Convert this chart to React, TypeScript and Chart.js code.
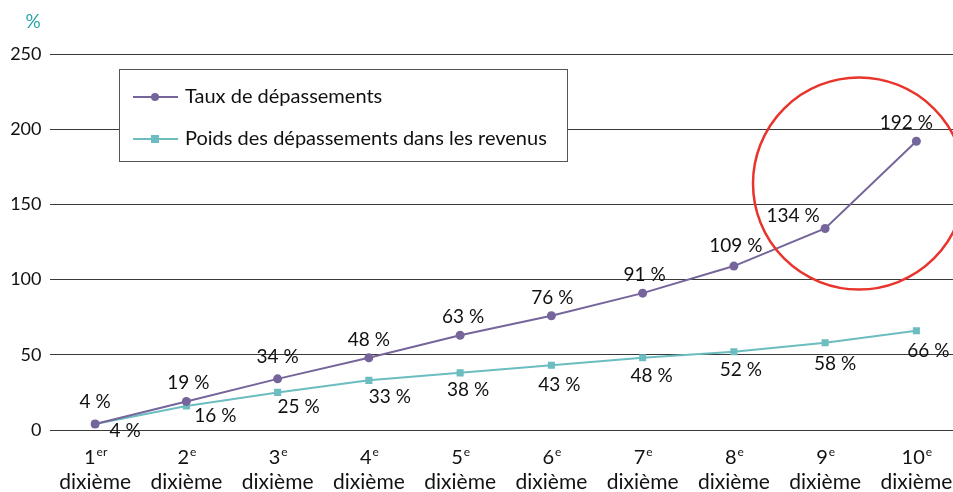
import React, { useEffect, useRef } from "react";
import { Chart, registerables } from "chart.js";

Chart.register(...registerables);

const categoryNumbers = ["1", "2", "3", "4", "5", "6", "7", "8", "9", "10"];
const categorySuffixes = ["er", "e", "e", "e", "e", "e", "e", "e", "e", "e"];
const categoryWord = "dixième";
const tauxDepassements = [4, 19, 34, 48, 63, 76, 91, 109, 134, 192];
const poidsRevenus = [4, 16, 25, 33, 38, 43, 48, 52, 58, 66];
const seriesNames = ["Taux de dépassements", "Poids des dépassements dans les revenus"];
const yTicks = [0, 50, 100, 150, 200, 250];

// label offsets relative to points (layout)
const tauxOffsets = [[0, -22], [2, -19], [0, -22], [0, -18], [3, -18], [1, -18], [2, -18], [2, -20], [-32, -13], [-10, -18]];
const poidsOffsets = [[30, 7], [29, 10], [21, 14], [21, 17], [8, 17], [8, 20], [9, 18], [7, 18], [10, 21], [12, 20]];

const FONT = "Lato, 'Open Sans', sans-serif";
const PURPLE = "#75659a";
const TEAL = "#6bbdc0";
const TEXT = "#111111";

const customPlugin = {
  id: "custom",
  afterDatasetsDraw(chart: any) {
    const ctx = chart.ctx;
    const area = chart.chartArea;
    const xs = chart.scales.x;
    ctx.save();
    // data labels
    ctx.font = `19px ${FONT}`;
    ctx.fillStyle = TEXT;
    ctx.textAlign = "center";
    ctx.textBaseline = "middle";
    const offs = [tauxOffsets, poidsOffsets];
    chart.data.datasets.forEach((ds: any, di: number) => {
      const meta = chart.getDatasetMeta(di);
      meta.data.forEach((pt: any, i: number) => {
        const [dx, dy] = offs[di][i];
        ctx.fillText(`${ds.data[i]} %`, pt.x + dx, pt.y + dy);
      });
    });
    // x labels
    categoryNumbers.forEach((n, i) => {
      const x = xs.getPixelForValue(i);
      ctx.font = `20px ${FONT}`;
      const wn = ctx.measureText(n).width;
      ctx.font = `12px ${FONT}`;
      const ws = ctx.measureText(categorySuffixes[i]).width;
      const start = x - (wn + ws) / 2;
      ctx.textAlign = "left";
      ctx.font = `20px ${FONT}`;
      ctx.fillText(n, start, area.bottom + 28);
      ctx.font = `12px ${FONT}`;
      ctx.fillText(categorySuffixes[i], start + wn + 1, area.bottom + 22);
      ctx.textAlign = "center";
      ctx.font = `21px ${FONT}`;
      ctx.fillText(categoryWord, x, area.bottom + 52);
    });
    // % unit
    ctx.fillStyle = "#2aa3a8";
    ctx.font = `19px ${FONT}`;
    ctx.fillText("%", 33, 22);
    // legend
    const lx = 119.5, ly = 69.5;
    ctx.fillStyle = "#ffffff";
    ctx.fillRect(lx, ly, 448, 92);
    ctx.strokeStyle = "#555";
    ctx.lineWidth = 1;
    ctx.strokeRect(lx, ly, 448, 92);
    const rows = [
      { y: 97, color: PURPLE, shape: "circle" },
      { y: 139, color: TEAL, shape: "rect" },
    ];
    rows.forEach((r, i) => {
      ctx.strokeStyle = r.color;
      ctx.lineWidth = 2;
      ctx.beginPath();
      ctx.moveTo(133, r.y);
      ctx.lineTo(178, r.y);
      ctx.stroke();
      ctx.fillStyle = r.color;
      if (r.shape === "circle") {
        ctx.beginPath();
        ctx.arc(155, r.y, 4, 0, Math.PI * 2);
        ctx.fill();
      } else {
        ctx.fillRect(151, r.y - 4, 8, 8);
      }
      ctx.fillStyle = TEXT;
      ctx.textAlign = "left";
      ctx.font = `20px ${FONT}`;
      ctx.fillText(seriesNames[i], 185, r.y);
    });
    // red circle
    ctx.strokeStyle = "#e8342c";
    ctx.lineWidth = 2.5;
    ctx.beginPath();
    ctx.arc(859, 183.5, 106, 0, Math.PI * 2);
    ctx.stroke();
    ctx.restore();
  },
};

export default function App() {
  const ref = useRef<HTMLCanvasElement>(null);
  useEffect(() => {
    document.body.style.margin = "0";
    const chart = new Chart(ref.current!, {
      type: "line",
      data: {
        labels: categoryNumbers,
        datasets: [
          {
            label: seriesNames[0],
            data: tauxDepassements,
            borderColor: PURPLE,
            backgroundColor: PURPLE,
            borderWidth: 2,
            pointStyle: "circle",
            pointRadius: 4.5,
            pointBorderWidth: 0,
            tension: 0,
          },
          {
            label: seriesNames[1],
            data: poidsRevenus,
            borderColor: TEAL,
            backgroundColor: TEAL,
            borderWidth: 2,
            pointStyle: "rect",
            pointRadius: 5,
            pointBorderWidth: 0,
            tension: 0,
          },
        ],
      },
      options: {
        responsive: false,
        animation: false,
        layout: { padding: { top: 54, right: 0, left: 0, bottom: 0 } },
        plugins: { legend: { display: false }, tooltip: { enabled: false } },
        scales: {
          x: {
            offset: true,
            grid: { display: false },
            border: { display: false },
            ticks: { display: false },
            afterFit: (s: any) => {
              s.height = 62;
            },
          },
          y: {
            min: 0,
            max: 250,
            afterBuildTicks: (s: any) => {
              s.ticks = yTicks.map((v) => ({ value: v }));
            },
            afterFit: (s: any) => {
              s.width = 49.5;
            },
            grid: { color: "#3a3a3a", lineWidth: 1, drawTicks: false },
            border: { display: false },
            ticks: {
              padding: 8,
              color: TEXT,
              font: { size: 18, family: FONT },
            },
          },
        },
      },
      plugins: [customPlugin],
    });
    return () => chart.destroy();
  }, []);
  return (
    <div style={{ position: "fixed", left: 0, top: 0, width: 953, height: 492, overflow: "hidden", background: "#fff" }}>
      <canvas ref={ref} width={967} height={492} style={{ width: 967, height: 492, display: "block" }} />
    </div>
  );
}
